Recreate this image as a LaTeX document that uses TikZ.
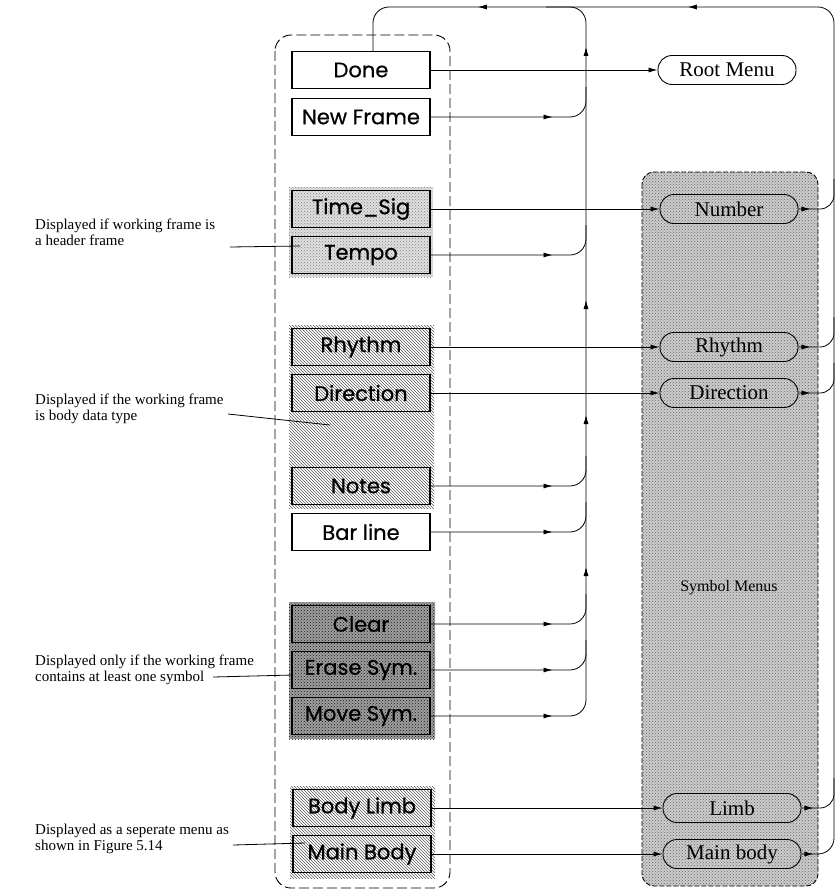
\documentclass[tikz,border=0pt]{standalone}
\usepackage{fontspec}
\setmainfont{Liberation Serif}
\newfontfamily\boxfont[FakeBold=0.7]{Poppins}
\usetikzlibrary{arrows.meta,patterns,decorations.markings}
\begin{document}
\begin{tikzpicture}[x=1pt,y=-1pt,
  >={Latex[length=9pt,width=5pt]},
  menubox/.style={draw, line width=1.1pt, minimum width=138pt, minimum height=37pt, inner sep=0pt, font=\boxfont\fontsize{21}{24}\selectfont},
  pill/.style={draw, line width=0.9pt, rounded corners=14pt, minimum width=138pt, minimum height=29pt, inner sep=0pt, font=\fontsize{21}{23}\selectfont},
  note/.style={anchor=west, align=left, inner sep=0pt, font=\fontsize{15}{16}\selectfont},
  conn/.style={line width=0.8pt},
  busin/.style={conn, rounded corners=16pt, postaction={decorate}, decoration={markings, mark=at position 122pt with {\arrow{>}}}},
  pillout/.style={conn, rounded corners=14pt, postaction={decorate}, decoration={markings, mark=at position 12pt with {\arrow{>}}}},
  lightdots/.style={preaction={fill=black!12}, pattern=crosshatch dots, pattern color=black!50},
  hatch/.style={pattern=north west lines, pattern color=black!65},
  darkdots/.style={preaction={fill=black!38}, pattern=crosshatch dots, pattern color=black!90},
  symdots/.style={preaction={fill=black!20}, pattern=crosshatch dots, pattern color=black!60}
]
\useasboundingbox (0,0) rectangle (837,891);

% shaded regions
\fill[symdots, rounded corners=12pt] (642,172) rectangle (818,886);
\draw[line width=0.9pt, dash pattern=on 5pt off 2pt, rounded corners=12pt] (642,172) rectangle (818,886);
\fill[lightdots] (289,187) rectangle (433,277);
\fill[hatch] (289,325) rectangle (434,508);
\fill[darkdots] (289,602) rectangle (435,739);
\fill[hatch] (290,786) rectangle (435,878);

% left frame
\draw[line width=0.9pt, dash pattern=on 10pt off 4pt, rounded corners=16pt] (275,35) rectangle (450,888);

% menu boxes
\node[menubox, fill=white] (done) at (361,70) {Done};
\node[menubox, fill=white] (newframe) at (361,117) {New Frame};
\node[menubox] (timesig) at (361,209) {Time\_Sig};
\node[menubox] (tempo) at (361,255) {Tempo};
\node[menubox] (rhythm) at (361,347) {Rhythm};
\node[menubox] (direction) at (361,393) {Direction};
\node[menubox] (notes) at (361,486) {Notes};
\node[menubox, fill=white] (barline) at (361,532) {Bar line};
\node[menubox] (clear) at (361,624) {Clear};
\node[menubox] (erase) at (361,670) {Erase Sym.};
\node[menubox] (move) at (361,716) {Move Sym.};
\node[menubox] (bodylimb) at (362,808) {Body Limb};
\node[menubox] (mainbody) at (362,854) {Main Body};

% pills
\node[pill, fill=white] (proot) at (727,70) {Root Menu};
\node[pill] (pnum) at (729,209) {Number};
\node[pill] (prhy) at (729,347) {Rhythm};
\node[pill] (pdir) at (729,393) {Direction};
\node[pill] (plimb) at (732,808) {Limb};
\node[pill] (pmain) at (732,854) {Main body};
\node[font=\fontsize{16}{18}\selectfont] (symlabel) at (729,588) {Symbol Menus};

% helper coordinates
\coordinate (busx) at (586,0);
\coordinate (edgex) at (834,0);
\coordinate (topy) at (0,7);

% straight connectors
\draw[conn,->] (done.east) -- (proot.west);
\draw[conn,->] (timesig.east) -- (pnum.west);
\draw[conn,->] (rhythm.east) -- (prhy.west);
\draw[conn,->] (direction.east) -- (pdir.west);
\draw[conn,->] (bodylimb.east) -- (plimb.west);
\draw[conn,->] (mainbody.east) -- (pmain.west);

% inputs to the bus
\draw[busin] (newframe.east) -- (newframe.east -| busx) -- ([yshift=30pt]newframe.east -| busx);
\draw[busin] (tempo.east) -- (tempo.east -| busx) -- ([yshift=30pt]tempo.east -| busx);
\draw[busin] (notes.east) -- (notes.east -| busx) -- ([yshift=30pt]notes.east -| busx);
\draw[busin] (barline.east) -- (barline.east -| busx) -- ([yshift=30pt]barline.east -| busx);
\draw[busin] (clear.east) -- (clear.east -| busx) -- ([yshift=30pt]clear.east -| busx);
\draw[busin] (erase.east) -- (erase.east -| busx) -- ([yshift=30pt]erase.east -| busx);
\draw[busin] (move.east) -- (move.east -| busx) -- ([yshift=16pt]move.east -| busx);

% the bus
\draw[conn, rounded corners=16pt, postaction={decorate}, decoration={markings,
  mark=at position 133pt with {\arrow{>}},
  mark=at position 285pt with {\arrow{>}},
  mark=at position 400pt with {\arrow{>}},
  mark=at position 653pt with {\arrow{>}}}]
  ([yshift=16pt]move.east -| busx) -- (busx |- topy) -- ([xshift=-40pt]busx |- topy);

% return path from symbol menus to this menu
\draw[conn, rounded corners=16pt, postaction={decorate}, decoration={markings,
  mark=at position 12pt with {\arrow{>}},
  mark=at position 1012pt with {\arrow{>}},
  mark=at position 1222pt with {\arrow{>}}}]
  (pmain.east) -- (pmain.east -| edgex) -- (edgex |- topy) -- ([xshift=12pt]done.north |- topy) -- ([xshift=12pt]done.north);
\draw[pillout] (plimb.east) -- (plimb.east -| edgex) -- ([yshift=30pt]plimb.east -| edgex);
\draw[pillout] (pdir.east) -- (pdir.east -| edgex) -- ([yshift=30pt]pdir.east -| edgex);
\draw[pillout] (prhy.east) -- (prhy.east -| edgex) -- ([yshift=30pt]prhy.east -| edgex);
\draw[pillout] (pnum.east) -- (pnum.east -| edgex) -- ([yshift=30pt]pnum.east -| edgex);

% annotations
\node[note] (n1) at (35,232) {Displayed if working frame is\\a header frame};
\node[note] (n2) at (35,409) {Displayed if the working frame\\is body data type};
\node[note] (n3) at (35,670) {Displayed only if the working frame\\contains at least one symbol};
\node[note] (n4) at (35,839) {Displayed as a seperate menu as\\shown in Figure 5.14};
\coordinate (p1) at (300,246);
\coordinate (p2) at (330,425);
\coordinate (p3) at (293,675);
\coordinate (p4) at (305,843);
\draw[conn] (230,247) -- (p1);
\draw[conn] (228,414) -- (p2);
\draw[conn] (213,677) -- (p3);
\draw[conn] (233,845) -- (p4);
\end{tikzpicture}
\end{document}
